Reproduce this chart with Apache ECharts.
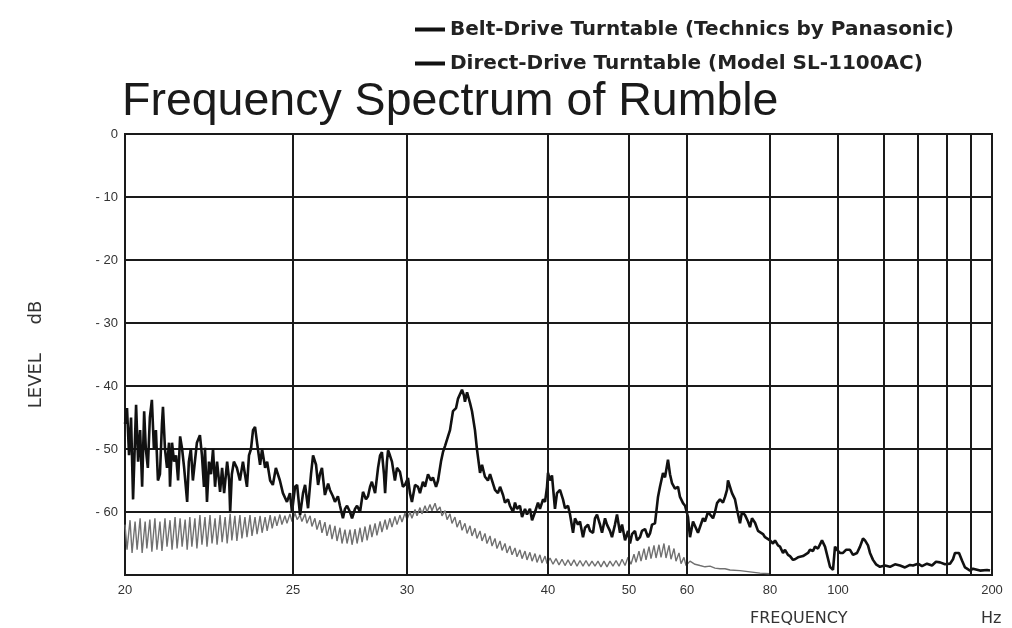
<!DOCTYPE html>
<html>
<head>
<meta charset="utf-8">
<script src="https://cdn.jsdelivr.net/npm/echarts@6/dist/echarts.min.js"></script>
<style>
html,body{margin:0;padding:0;background:#fff;}
#chart{width:1012px;height:628px;}
</style>
</head>
<body>
<div id="chart"></div>
<script>
// Frequency grid of the original chart paper (non-uniform scale)
const tickFreqs = [20, 25, 30, 40, 50, 60, 80, 100, 120, 140, 160, 180, 200];
const tickLabels = ['20', '25', '30', '40', '50', '60', '80', '100', '', '', '', '', '200'];
// relative placement of the grid lines along the paper's frequency scale
const tickPlace = [0, 168, 282, 423, 504, 562, 645, 713, 759, 793, 822, 846, 867];

const seriesNames = ['Belt-Drive Turntable (Technics by Panasonic)', 'Direct-Drive Turntable (Model SL-1100AC)'];

// [frequency Hz, level dB]
const beltDrive = [[20.00,-46],[20.06,-43.5],[20.12,-51],[20.18,-45],[20.24,-58],[20.33,-43],[20.39,-52],[20.45,-47],[20.51,-56],[20.57,-44],[20.62,-50],[20.68,-53],[20.74,-45],[20.80,-42.2],[20.86,-50],[20.92,-47],[20.98,-55],[21.04,-54],[21.10,-46],[21.13,-43.3],[21.19,-50],[21.25,-53],[21.31,-49],[21.34,-56],[21.40,-49],[21.46,-52],[21.52,-51],[21.58,-55],[21.64,-48],[21.70,-50],[21.76,-53],[21.85,-58.4],[21.90,-52],[21.96,-50],[22.02,-55],[22.08,-52],[22.14,-49],[22.23,-47.8],[22.29,-51],[22.35,-56],[22.38,-49.8],[22.44,-58.4],[22.50,-52],[22.56,-54],[22.62,-50],[22.68,-56],[22.74,-52],[22.83,-56.8],[22.89,-53],[22.95,-57],[23.04,-52],[23.10,-55],[23.13,-60],[23.18,-54],[23.24,-52],[23.33,-53],[23.42,-55],[23.51,-52],[23.57,-54],[23.63,-56],[23.69,-51],[23.75,-50],[23.81,-47],[23.87,-46.5],[23.93,-49],[24.02,-52.5],[24.08,-50],[24.17,-53],[24.23,-52],[24.32,-55],[24.40,-55.7],[24.49,-53],[24.61,-55],[24.70,-57],[24.82,-58.4],[24.91,-57],[24.97,-60],[25.09,-56],[25.18,-55.7],[25.31,-60.5],[25.44,-57],[25.53,-55.7],[25.66,-59.4],[25.79,-54],[25.88,-51],[26.01,-52.5],[26.10,-55.7],[26.18,-54],[26.27,-53],[26.40,-57.3],[26.54,-55.5],[26.62,-56.5],[26.75,-57.5],[26.84,-58.4],[26.97,-57.5],[27.06,-59],[27.19,-61],[27.28,-59.5],[27.37,-59],[27.50,-60],[27.59,-61],[27.72,-59.5],[27.81,-59],[27.94,-60],[28.07,-56.8],[28.20,-58],[28.29,-57.5],[28.38,-56],[28.46,-55.2],[28.60,-57],[28.73,-53],[28.82,-51],[28.90,-50.5],[28.99,-54],[29.04,-57],[29.12,-52],[29.17,-50.2],[29.25,-51],[29.34,-52],[29.47,-55],[29.56,-53],[29.69,-53.6],[29.82,-56],[29.91,-55.7],[30.07,-54.6],[30.21,-57],[30.35,-58.4],[30.57,-55.7],[30.78,-56],[30.92,-57],[31.13,-55.2],[31.28,-56],[31.49,-54],[31.70,-55],[31.84,-54.5],[32.06,-56],[32.20,-55],[32.41,-52],[32.55,-50.5],[32.70,-49.5],[32.91,-48],[33.05,-47],[33.26,-44],[33.48,-43.5],[33.62,-42],[33.76,-41.8],[33.90,-40.6],[34.04,-41.5],[34.11,-42.5],[34.26,-41],[34.47,-42.7],[34.61,-44],[34.82,-47],[34.96,-50],[35.18,-53.8],[35.32,-52.5],[35.53,-54.4],[35.74,-55],[35.89,-54],[36.10,-55.5],[36.24,-56.5],[36.45,-57],[36.60,-56],[36.81,-57.3],[36.95,-58.5],[37.16,-58],[37.30,-59],[37.52,-60],[37.66,-58.5],[37.80,-59.5],[38.01,-59],[38.16,-60.8],[38.37,-59.5],[38.51,-60.4],[38.72,-59.5],[38.87,-61.3],[39.08,-60],[39.29,-58.5],[39.43,-59.5],[39.65,-58],[39.79,-58.4],[39.93,-56],[40.00,-53.8],[40.25,-55],[40.49,-54.2],[40.86,-59.5],[41.11,-57],[41.48,-56.5],[41.85,-58],[42.10,-59.4],[42.47,-59],[42.72,-60.4],[43.09,-63.3],[43.33,-61],[43.70,-62],[43.95,-61.5],[44.32,-64],[44.57,-62.5],[44.94,-62],[45.19,-63],[45.56,-63.3],[45.80,-61],[46.05,-60.4],[46.42,-62],[46.67,-63.3],[47.04,-61],[47.28,-62],[47.65,-63],[47.90,-64],[48.27,-62],[48.52,-60.4],[48.89,-63.3],[49.14,-62],[49.51,-64.5],[49.88,-63],[50.17,-65],[50.52,-63.5],[51.03,-63],[51.38,-64.5],[51.90,-64],[52.24,-63],[52.76,-62.7],[53.28,-64],[53.62,-63.4],[53.97,-62],[54.48,-61.8],[55.00,-57.6],[55.34,-56],[55.86,-53.8],[56.21,-54.5],[56.72,-51.7],[57.07,-54],[57.41,-55.4],[57.93,-56.3],[58.45,-56],[58.79,-57.6],[59.31,-58.6],[59.66,-59],[60.24,-60.8],[60.72,-64],[61.45,-61.5],[61.93,-61.6],[62.65,-63.3],[63.13,-63],[63.86,-61],[64.34,-61.5],[65.06,-60],[65.54,-59.7],[66.27,-61],[66.75,-60],[67.23,-58.6],[67.95,-58],[68.67,-58.5],[69.16,-57.6],[69.64,-56.5],[69.88,-55],[70.36,-55.2],[70.84,-57],[71.57,-58],[72.05,-59.6],[72.77,-61.8],[73.25,-60],[73.98,-60.5],[74.70,-61.5],[75.18,-62.4],[75.66,-61],[76.39,-61.7],[77.11,-63],[77.59,-63],[78.31,-63.5],[78.80,-64],[79.28,-64],[80.00,-64.5],[80.88,-65],[81.47,-64.5],[82.35,-65.3],[82.94,-65.5],[83.82,-66.5],[84.41,-66],[85.29,-66.8],[85.88,-67],[86.76,-67.6],[87.35,-67.5],[88.24,-67.2],[88.82,-67],[89.71,-67],[90.29,-66.7],[91.18,-66.5],[91.76,-66],[92.65,-66.2],[93.24,-65.5],[94.12,-65.8],[95.29,-64.5],[96.18,-65.5],[96.76,-65.5],[97.65,-68.7],[98.53,-69.2],[99.12,-65.5],[99.71,-66],[100.87,-66.5],[102.17,-66.5],[103.48,-66],[105.22,-66],[106.52,-66.8],[108.26,-66.5],[109.57,-65.5],[110.87,-64.2],[111.74,-64.5],[113.04,-65.3],[113.91,-66.5],[115.22,-67.6],[116.52,-68.3],[118.26,-68.7],[120.59,-68.5],[123.53,-68.7],[126.47,-68.3],[129.41,-68.5],[132.35,-68.8],[135.29,-68.4],[137.06,-68.5],[140.00,-68.2],[142.76,-68.6],[146.21,-68.2],[149.66,-68.5],[152.41,-67.9],[155.17,-68],[158.62,-68.3],[162.50,-68.2],[165.00,-67.5],[166.67,-66.5],[168.33,-66.3],[170.00,-66.5],[172.50,-67.7],[175.00,-68.8],[176.67,-69],[179.17,-69.3],[181.90,-69],[188.57,-69.3],[195.24,-69.2],[198.10,-69.3]];

const directDrive = [[20.00,-62],[20.06,-66],[20.15,-61.3],[20.21,-66.5],[20.30,-61.5],[20.36,-66],[20.45,-61],[20.51,-66.5],[20.60,-61.5],[20.65,-65.8],[20.74,-61.2],[20.80,-66.3],[20.89,-61],[20.95,-66],[21.04,-61.5],[21.10,-66.2],[21.19,-61],[21.25,-65.5],[21.34,-61.3],[21.40,-66],[21.49,-60.8],[21.55,-65.8],[21.64,-61],[21.70,-65.5],[21.79,-61.2],[21.85,-66],[21.93,-60.8],[21.99,-65.5],[22.08,-61],[22.14,-65.8],[22.23,-60.5],[22.29,-65.2],[22.38,-60.8],[22.44,-65.5],[22.53,-60.5],[22.59,-65],[22.68,-61],[22.74,-65.2],[22.83,-60.5],[22.89,-64.8],[22.98,-60.8],[23.04,-65],[23.13,-60.3],[23.18,-64.5],[23.27,-60.6],[23.33,-64.6],[23.42,-60.5],[23.48,-64.2],[23.57,-60.8],[23.63,-64],[23.72,-60.5],[23.78,-63.8],[23.87,-60.8],[23.93,-63.5],[24.02,-60.6],[24.08,-63.3],[24.17,-60.8],[24.23,-63],[24.32,-60.5],[24.38,-62.6],[24.46,-60.7],[24.52,-62.2],[24.61,-60.4],[24.67,-62],[24.76,-60.6],[24.82,-61.8],[24.91,-60.3],[24.97,-61.5],[25.09,-60.2],[25.18,-61.2],[25.31,-60.5],[25.39,-61.5],[25.53,-60.3],[25.61,-61.8],[25.75,-60.6],[25.83,-62.3],[25.96,-61],[26.05,-62.8],[26.18,-61.3],[26.27,-63.3],[26.40,-61.6],[26.49,-63.8],[26.62,-62],[26.71,-64.3],[26.84,-62.2],[26.93,-64.6],[27.06,-62.5],[27.15,-65],[27.28,-62.8],[27.37,-65],[27.50,-62.8],[27.59,-65.2],[27.72,-62.7],[27.81,-65],[27.94,-62.5],[28.03,-64.8],[28.16,-62.3],[28.25,-64.5],[28.38,-62],[28.46,-64],[28.60,-61.8],[28.68,-63.7],[28.82,-61.5],[28.90,-63.2],[29.04,-61.2],[29.12,-62.8],[29.25,-61],[29.34,-62.4],[29.47,-60.7],[29.56,-62],[29.69,-60.5],[29.78,-61.6],[29.91,-60.2],[30.00,-61.2],[30.21,-60],[30.35,-61],[30.57,-59.6],[30.71,-60.6],[30.92,-59.3],[31.06,-60.3],[31.28,-59],[31.42,-60],[31.63,-58.8],[31.77,-59.8],[31.99,-58.6],[32.13,-59.8],[32.34,-59.2],[32.48,-60.6],[32.70,-59.8],[32.84,-61.2],[33.05,-60.3],[33.19,-61.8],[33.40,-60.8],[33.55,-62.4],[33.76,-61.3],[33.90,-62.9],[34.11,-61.8],[34.26,-63.4],[34.47,-62.2],[34.61,-63.8],[34.82,-62.6],[34.96,-64.2],[35.18,-63],[35.32,-64.6],[35.53,-63.4],[35.67,-65],[35.89,-63.8],[36.03,-65.4],[36.24,-64.2],[36.38,-65.8],[36.60,-64.6],[36.74,-66.1],[36.95,-65],[37.09,-66.5],[37.30,-65.4],[37.45,-66.8],[37.66,-65.7],[37.80,-67.1],[38.01,-66],[38.16,-67.4],[38.37,-66.2],[38.51,-67.6],[38.72,-66.4],[38.87,-67.8],[39.08,-66.6],[39.22,-68],[39.43,-66.8],[39.57,-68.1],[39.79,-67],[39.93,-68.2],[40.25,-67.3],[40.62,-68.3],[40.99,-67.4],[41.36,-68.4],[41.73,-67.5],[42.10,-68.5],[42.47,-67.6],[42.84,-68.5],[43.21,-67.6],[43.58,-68.6],[43.95,-67.7],[44.32,-68.6],[44.69,-67.7],[45.06,-68.6],[45.43,-67.8],[45.80,-68.6],[46.17,-67.8],[46.54,-68.7],[46.91,-67.8],[47.28,-68.7],[47.65,-67.8],[48.02,-68.6],[48.40,-67.7],[48.77,-68.6],[49.14,-67.5],[49.51,-68.5],[49.88,-67.2],[50.34,-68.3],[50.86,-66.7],[51.21,-68],[51.72,-66.2],[52.07,-67.8],[52.59,-65.8],[52.93,-67.6],[53.45,-65.5],[53.79,-67.4],[54.31,-65.3],[54.66,-67.3],[55.17,-65.2],[55.52,-67.2],[56.03,-65],[56.38,-67.3],[56.90,-65.3],[57.24,-67.5],[57.76,-65.8],[58.10,-67.8],[58.62,-66.5],[58.97,-68.2],[59.48,-67.2],[59.83,-68.5],[60.72,-67.8],[61.93,-68.3],[63.13,-68.5],[64.34,-68.7],[65.54,-68.6],[66.75,-68.9],[67.95,-69],[69.16,-69],[70.36,-69.2],[72.77,-69.3],[75.18,-69.5],[77.59,-69.7],[80.00,-69.8]];

// map a frequency onto the paper's scale (piecewise between grid lines)
function place(f) {
  for (let i = 0; i < tickFreqs.length - 1; i++) {
    if (f <= tickFreqs[i + 1]) {
      const t = (f - tickFreqs[i]) / (tickFreqs[i + 1] - tickFreqs[i]);
      return tickPlace[i] + t * (tickPlace[i + 1] - tickPlace[i]);
    }
  }
  return tickPlace[tickPlace.length - 1];
}
const toXY = arr => arr.map(p => [place(p[0]), p[1]]);

const labelPlaces = tickPlace.filter((p, i) => tickLabels[i] !== '');
function labelFor(v) {
  const i = tickPlace.findIndex(p => Math.abs(p - v) < 0.01);
  return i >= 0 ? tickLabels[i] : '';
}

const FONT = '"Liberation Sans", Arial, Helvetica, sans-serif';
const WIDE = '"DejaVu Sans", Verdana, sans-serif';
const chart = echarts.init(document.getElementById('chart'), null, {renderer: 'canvas'});
chart.setOption({
  animation: false,
  backgroundColor: '#ffffff',
  title: [
    {text: 'Frequency Spectrum of Rumble', left: 117, top: 74,
     textStyle: {fontSize: 46.5, fontWeight: 'normal', color: '#1a1a1a', fontFamily: FONT}},
    {text: 'FREQUENCY', left: 745, top: 606,
     textStyle: {fontSize: 16, fontWeight: 'normal', color: '#333', fontFamily: WIDE}},
    {text: 'Hz', left: 976, top: 606,
     textStyle: {fontSize: 16, fontWeight: 'normal', color: '#333', fontFamily: WIDE}}
  ],
  legend: {
    orient: 'vertical', left: 410, top: 13, itemWidth: 30, itemHeight: 4, itemGap: 11,
    icon: 'rect', selectedMode: false,
    textStyle: {fontSize: 20, fontWeight: 'bold', color: '#222', fontFamily: WIDE, lineHeight: 23},
    data: seriesNames.map(n => ({name: n, itemStyle: {color: '#111'}}))
  },
  grid: {left: 125, right: 20, top: 134, bottom: 53, show: true, borderColor: '#1a1a1a', borderWidth: 2, backgroundColor: '#fff'},
  xAxis: {
    type: 'value', min: tickPlace[0], max: tickPlace[tickPlace.length - 1],
    axisLine: {show: false}, axisTick: {show: false}, splitLine: {show: false},
    axisLabel: {customValues: labelPlaces, formatter: v => labelFor(v), margin: 9,
      fontSize: 13, color: '#333', fontFamily: FONT}
  },
  yAxis: {
    type: 'value', min: -70, max: 0, interval: 10,
    name: 'LEVEL     dB', nameLocation: 'middle', nameGap: 80, nameRotate: 90,
    nameTextStyle: {fontSize: 18, color: '#333', fontFamily: WIDE},
    axisLine: {show: false}, axisTick: {show: false},
    splitLine: {show: true, lineStyle: {color: '#1a1a1a', width: 2}},
    axisLabel: {formatter: v => (v === -70 ? '' : (v === 0 ? '0' : '- ' + Math.abs(v))),
      fontSize: 13, color: '#333', margin: 7, fontFamily: FONT}
  },
  series: [
    {name: seriesNames[0], type: 'line', data: toXY(beltDrive), showSymbol: false, symbol: 'none',
     lineStyle: {color: '#111', width: 2.6}, itemStyle: {color: '#111'}, z: 4},
    {name: seriesNames[1], type: 'line', data: toXY(directDrive), showSymbol: false, symbol: 'none',
     lineStyle: {color: '#707070', width: 1.4}, itemStyle: {color: '#707070'}, z: 3,
     markLine: {silent: true, symbol: 'none', label: {show: false},
       lineStyle: {color: '#1a1a1a', width: 2, type: 'solid'},
       data: tickPlace.slice(1, -1).map(p => ({xAxis: p}))}}
  ]
});
</script>
</body>
</html>
